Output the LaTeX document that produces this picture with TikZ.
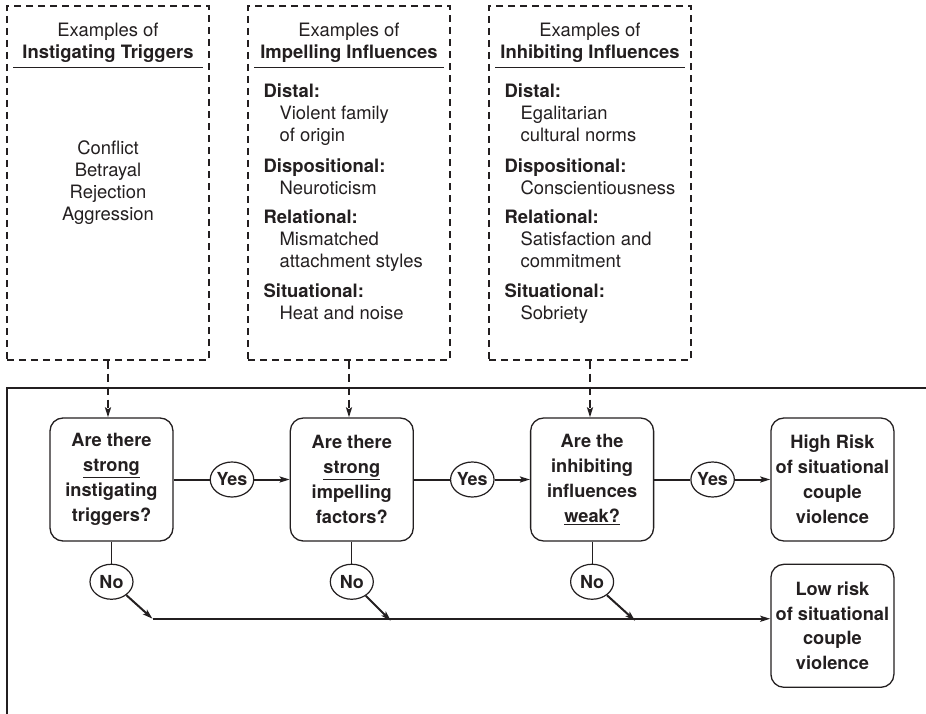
\documentclass[tikz,border=0pt]{standalone}
\usepackage{fontspec}
\setmainfont{TeX Gyre Heros}
\usetikzlibrary{arrows.meta,positioning,calc,shapes.geometric}
\definecolor{ink}{HTML}{231F20}
\newcommand{\indt}{\hspace*{16bp}}
\tikzset{
  exbox/.style={draw=ink, dash pattern=on 7bp off 5bp, line width=1.2bp,
                minimum width=202bp, minimum height=354bp, inner sep=0pt},
  head/.style={align=center, text=ink, font=\fontsize{18.5}{22}\selectfont},
  list/.style={align=left, text=ink, inner sep=0pt, anchor=north west,
               font=\fontsize{18.5}{22}\selectfont},
  decide/.style={draw=ink, rounded corners=13bp, line width=1.3bp, text=ink,
                 minimum width=123bp, minimum height=123bp, inner sep=0pt,
                 align=center, font=\bfseries\fontsize{18.3}{25}\selectfont},
  tag/.style={ellipse, draw=ink, line width=1.2bp, text=ink, inner sep=0pt,
              minimum width=43bp, minimum height=35bp,
              font=\bfseries\fontsize{18}{20}\selectfont},
  arr/.style={-{Stealth[length=10bp, width=6bp, inset=2bp]}, ink, line width=2bp},
  darr/.style={arr, dash pattern=on 8bp off 5bp},
}
\begin{document}
\begin{tikzpicture}[x=1bp, y=-1bp]
    \useasboundingbox (0,0) rectangle (926,714);
    % example boxes
    \node[exbox] (trig) at (108,183) {};
    \node[exbox] (imp) at (349,183) {};
    \node[exbox] (inh) at (590,183) {};
    \node[head] (trighead) at ($(trig.north)+(0,37)$) {Examples of\\\textbf{Instigating Triggers}};
    \node[head] (imphead) at ($(imp.north)+(0,37)$) {Examples of\\\textbf{Impelling Influences}};
    \node[head] (inhhead) at ($(inh.north)+(0,37)$) {Examples of\\\textbf{Inhibiting Influences}};
    \foreach \b in {trig,imp,inh}
      \draw[ink, line width=1.2bp] ($(\b.north west)+(7,62)$) -- ($(\b.north east)+(-7,62)$);
    \node[head] (triglist) at (trig) {Conflict\\Betrayal\\Rejection\\Aggression};
    \node[list] (implist) at ($(imp.north west)+(16,78)$)
      {\textbf{Distal:}\\\indt Violent family\\\indt of origin\\[9bp]
       \textbf{Dispositional:}\\\indt Neuroticism\\[8bp]
       \textbf{Relational:}\\\indt Mismatched\\\indt attachment styles\\[8bp]
       \textbf{Situational:}\\\indt Heat and noise};
    \node[list] (inhlist) at ($(inh.north west)+(16,78)$)
      {\textbf{Distal:}\\\indt Egalitarian\\\indt cultural norms\\[9bp]
       \textbf{Dispositional:}\\\indt Conscientiousness\\[8bp]
       \textbf{Relational:}\\\indt Satisfaction and\\\indt commitment\\[8bp]
       \textbf{Situational:}\\\indt Sobriety};
    % frame
    \draw[ink, line width=1.2bp] (926,388) -- (7,388) -- (7,714);
    % decisions
    \node[decide] (d1) at (111.5,479.5) {Are there\\\underline{strong}\\instigating\\triggers?};
    \node[decide, right=116bp of d1] (d2) {Are there\\\underline{strong}\\impelling\\factors?};
    \node[decide, right=116bp of d2] (d3) {Are the\\inhibiting\\influences\\\underline{weak?}};
    \node[decide, right=116bp of d3] (high) {High Risk\\of situational\\couple\\violence};
    \node[decide, below=22bp of high] (low) {Low risk\\of situational\\couple\\violence};
    \node[tag, right=36bp of d1] (yes1) {Yes};
    \node[tag, right=36bp of d2] (yes2) {Yes};
    \node[tag, right=36bp of d3] (yes3) {Yes};
    \node[tag, below=22bp of d1] (no1) {No};
    \node[tag, below=22bp of d2] (no2) {No};
    \node[tag, below=22bp of d3] (no3) {No};
    \coordinate (j1) at ($(no1)+(41,37)$);
    \coordinate (j2) at ($(no2)+(39,39)$);
    \coordinate (j3) at ($(no3)+(43,39)$);
    % connectors
    \draw[darr] (trig.south) -- (trig.south |- d1.north);
    \draw[darr] (imp.south) -- (imp.south |- d2.north);
    \draw[darr] (inh.south) -- (inh.south |- d3.north);
    \draw[ink, line width=2bp] (d1) -- (yes1);
    \draw[arr] (yes1) -- (d2);
    \draw[ink, line width=2bp] (d2) -- (yes2);
    \draw[arr] (yes2) -- (d3);
    \draw[ink, line width=2bp] (d3) -- (yes3);
    \draw[arr] (yes3) -- (high);
    \foreach \d in {1,2,3} {
      \draw[ink, line width=1.1bp] (d\d) -- (no\d);
      \draw[arr] (no\d) -- (j\d);
    }
    \draw[arr] (j1) -- (j1 -| low.west);
  \end{tikzpicture}
\end{document}
